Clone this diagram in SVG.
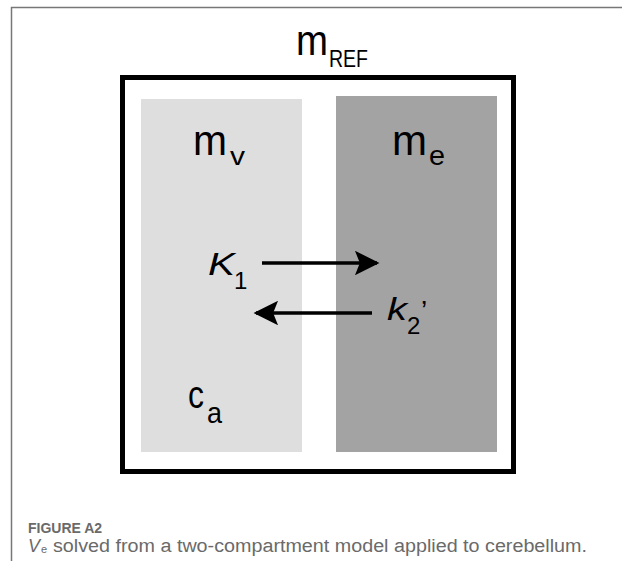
<svg xmlns="http://www.w3.org/2000/svg" width="622" height="561" viewBox="0 0 622 561">
  <style>
    .lbl { font-family: "Liberation Sans", Arial, sans-serif; fill: #000; }
    .it { font-style: italic; }
    .cap { font-family: "Liberation Sans", Arial, sans-serif; fill: #6a6a6a; }
    .conn { stroke: #000; stroke-width: 3.5; fill: none; }
  </style>
  <defs>
    <marker id="ah" viewBox="0 0 10 10" refX="9" refY="5" markerWidth="8" markerHeight="7" markerUnits="strokeWidth" orient="auto">
      <path d="M0,0 L10,5 L0,10 L2,5 Z" fill="#000"/>
    </marker>
  </defs>
  <rect width="622" height="561" fill="#fff"/>
  <g id="page-border">
    <path d="M11.5,561 V7.5 H622" stroke="#777" stroke-width="1.5" fill="none"/>
  </g>
  <g id="m_ref">
    <rect x="122.5" y="77.5" width="391" height="394" fill="none" stroke="#000" stroke-width="5"/>
    <text class="lbl" x="296" y="55" font-size="42" textLength="32" lengthAdjust="spacingAndGlyphs">m</text>
    <text class="lbl" x="329" y="66.5" font-size="24" textLength="39" lengthAdjust="spacingAndGlyphs">REF</text>
  </g>
  <g id="m_v">
    <rect x="141" y="99" width="161" height="353" fill="#dedede"/>
    <text class="lbl" x="193" y="155" font-size="42" textLength="34" lengthAdjust="spacingAndGlyphs">m</text>
    <text class="lbl" x="230" y="165" font-size="26" textLength="15" lengthAdjust="spacingAndGlyphs">v</text>
    <text class="lbl" x="188" y="408" font-size="38" textLength="16" lengthAdjust="spacingAndGlyphs">c</text>
    <text class="lbl" x="207" y="423" font-size="30" textLength="15" lengthAdjust="spacingAndGlyphs">a</text>
  </g>
  <g id="m_e">
    <rect x="336" y="96" width="161" height="356" fill="#a3a3a3"/>
    <text class="lbl" x="392" y="155" font-size="42" textLength="35" lengthAdjust="spacingAndGlyphs">m</text>
    <text class="lbl" x="429" y="165" font-size="28" textLength="16" lengthAdjust="spacingAndGlyphs">e</text>
  </g>
  <g id="rate-labels">
    <text class="lbl it" x="208" y="275" font-size="31" textLength="27" lengthAdjust="spacingAndGlyphs">K</text>
    <text class="lbl" x="234" y="289" font-size="24">1</text>
    <text class="lbl it" x="387" y="320" font-size="31" textLength="20" lengthAdjust="spacingAndGlyphs">k</text>
    <text class="lbl" x="407" y="334" font-size="24">2</text>
    <text class="lbl" x="421" y="320" font-size="28">’</text>
  </g>
  <g id="connectors">
    <line class="conn" x1="262" y1="263" x2="377" y2="263" marker-end="url(#ah)"/>
    <line class="conn" x1="372" y1="313" x2="256" y2="313" marker-end="url(#ah)"/>
  </g>
  <g id="caption">
    <text class="cap" x="28" y="533" font-size="14" font-weight="bold">FIGURE A2</text>
    <text class="cap it" x="28" y="552" font-size="18">V</text>
    <text class="cap" x="41" y="553" font-size="11">e</text>
    <text class="cap" x="53" y="552" font-size="18" textLength="534" lengthAdjust="spacingAndGlyphs">solved from a two-compartment model applied to cerebellum.</text>
  </g>
</svg>
